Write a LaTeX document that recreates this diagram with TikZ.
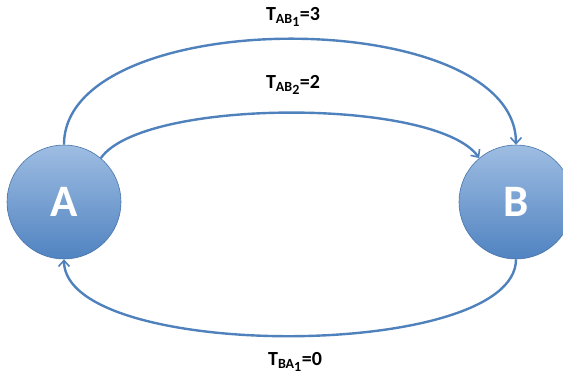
\documentclass[tikz,border=0pt]{standalone}
\usepackage{fontspec}
\setmainfont{Carlito}
\usetikzlibrary{arrows.meta, positioning}

\definecolor{linkblue}{RGB}{79,129,189}
\definecolor{topblue}{RGB}{158,189,226}
\definecolor{bottomblue}{RGB}{80,131,193}

\newcommand{\tlab}[3]{T\textsubscript{#1\raisebox{-0.35ex}{#2}}=#3}

\begin{document}
\begin{tikzpicture}[
    x=1pt, y=1pt,
    ->, >={Straight Barb[length=6pt, width=11pt, line width=1.6pt]},
    vertex/.style={circle, draw=linkblue!90!black, line width=0.6pt,
        top color=topblue, bottom color=bottomblue, minimum size=114pt,
        inner sep=0pt, text=white, font=\fontsize{45}{45}\selectfont\bfseries},
    tlabel/.style={font=\fontsize{20}{22}\selectfont\bfseries, inner sep=1pt},
    every edge/.style={draw=linkblue, line width=2.4pt}
]
\useasboundingbox (0,0) rectangle (563,381);

% Nodes
\node[vertex] (A) at (64,179) {A};
\node[vertex] (B) at (516,179) {B};

% Transitions from A to B
\path (A.north) edge[out=90, in=90, looseness=0.8] (B.north);
\path (A.50) edge[out=55, in=125, looseness=0.5] (B.130);

% Transition from B to A
\path (B.south) edge[out=-90, in=-90, looseness=0.58] (A.south);

% Labels
\node[tlabel] (tab1) at (293,364) {\tlab{AB}{1}{3}};
\node[tlabel] (tab2) at (293,296) {\tlab{AB}{2}{2}};
\node[tlabel] (tba1) at (295,19) {\tlab{BA}{1}{0}};

\end{tikzpicture}
\end{document}
